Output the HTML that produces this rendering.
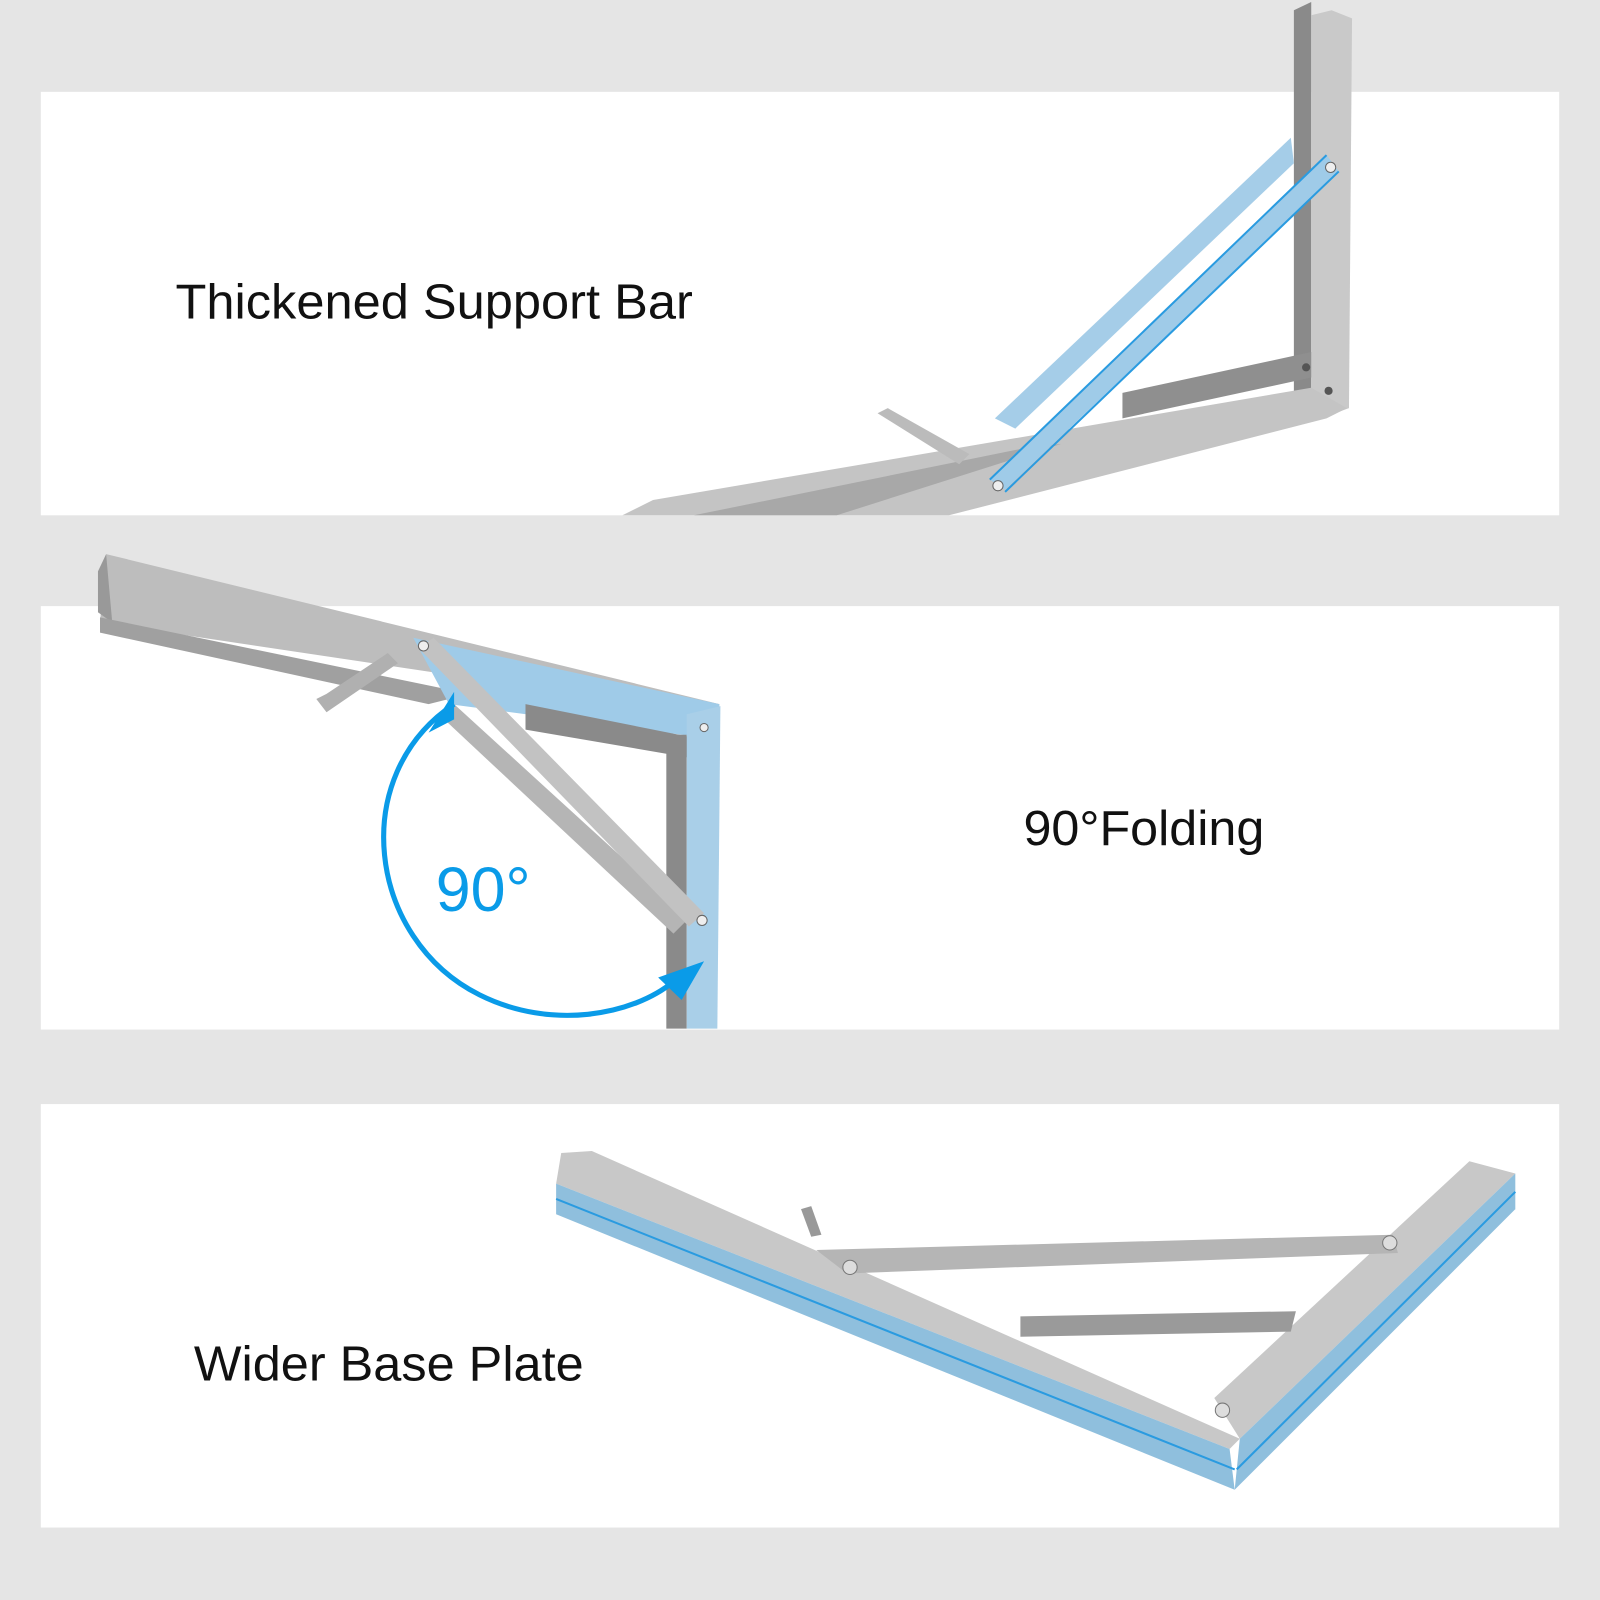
<!DOCTYPE html>
<html><head><style>html,body{margin:0;padding:0;background:#e5e5e5}svg{display:block}</style></head>
<body>
<svg width="1600" height="1600" viewBox="0 0 1568 1568" xmlns="http://www.w3.org/2000/svg" font-family="Liberation Sans, Arial, sans-serif">
<rect width="1568" height="1568" fill="#e5e5e5"/>
<rect x="40" y="90" width="1488" height="415" fill="#fff"/>
<rect x="40" y="594" width="1488" height="415" fill="#fff"/>
<rect x="40" y="1082" width="1488" height="415" fill="#fff"/>

<!-- Top bracket -->
<polygon points="1268,10 1285,2 1285,400 1268,400" fill="#8a8a8a"/>
<polygon points="1285,15 1305,10 1325,18 1322,400 1300,408 1285,400" fill="#c9c9c9"/>
<polygon points="1100,385 1285,345 1285,370 1100,410" fill="#8f8f8f"/>
<polygon points="610,505 640,490 1285,380 1320,400 1300,410 930,505" fill="#c4c4c4"/>
<polygon points="680,505 1000,440 1040,435 820,505" fill="#a8a8a8"/>
<polygon points="975,410 1265,135 1268,160 995,420" fill="#9bc8e6" opacity="0.9"/>
<polygon points="970,470 1300,152 1312,168 985,480" fill="#9fcbe8"/>
<line x1="970" y1="470" x2="1300" y2="152" stroke="#2a9be0" stroke-width="2"/>
<line x1="985" y1="482" x2="1312" y2="168" stroke="#2a9be0" stroke-width="2"/>
<polygon points="860,405 870,400 950,445 940,455" fill="#bbb"/>
<circle cx="1304" cy="164" r="5" fill="#eee" stroke="#666"/>
<circle cx="978" cy="476" r="5" fill="#eee" stroke="#666"/>
<circle cx="1302" cy="383" r="4" fill="#555"/>
<circle cx="1280" cy="360" r="4" fill="#555"/>

<!-- Middle bracket -->
<polygon points="104,543 705,690 700,700 98,610" fill="#bdbdbd"/>
<polygon points="96,560 104,543 110,610 96,600" fill="#999"/>
<polygon points="98,605 460,680 420,690 98,620" fill="#a0a0a0"/>
<polygon points="405,625 705,690 705,725 440,690" fill="#9fcbe8"/>
<polygon points="515,690 690,725 690,745 515,715" fill="#8a8a8a"/>
<polygon points="653,720 673,720 673,1008 653,1008" fill="#8a8a8a"/>
<polygon points="673,700 706,692 703,1008 673,1008" fill="#a9cfe8"/>
<polygon points="430,700 445,690 675,900 660,915" fill="#b5b5b5"/>
<polygon points="410,635 425,625 690,895 675,908" fill="#c2c2c2"/>
<polygon points="310,685 320,680 380,640 390,650 320,698" fill="#b0b0b0"/>
<circle cx="415" cy="633" r="5" fill="#eee" stroke="#666"/>
<circle cx="688" cy="902" r="5" fill="#eee" stroke="#666"/>
<circle cx="690" cy="713" r="4" fill="#eee" stroke="#666"/>
<path d="M445,690 C340,760 360,920 470,975 C540,1010 620,995 660,962" fill="none" stroke="#0a9be8" stroke-width="5"/>
<polygon points="445,678 420,718 445,705" fill="#0a9be8"/>
<polygon points="690,942 645,958 668,980" fill="#0a9be8"/>
<text x="427" y="893" font-size="62" fill="#0a9be8" textLength="93" lengthAdjust="spacingAndGlyphs">90°</text>

<!-- Bottom bracket -->
<polygon points="550,1130 580,1128 1215,1410 1205,1420 545,1160" fill="#c8c8c8"/>
<polygon points="545,1160 1205,1420 1210,1460 545,1190" fill="#8fbfdd"/>
<line x1="545" y1="1175" x2="1210" y2="1440" stroke="#2a9be0" stroke-width="2"/>
<polygon points="1190,1370 1440,1138 1485,1150 1215,1410" fill="#c8c8c8"/>
<polygon points="1215,1410 1485,1150 1485,1185 1210,1460" fill="#8fbfdd"/>
<line x1="1212" y1="1440" x2="1485" y2="1168" stroke="#2a9be0" stroke-width="2"/>
<polygon points="800,1225 1365,1210 1370,1228 830,1248" fill="#b5b5b5"/>
<polygon points="1000,1290 1270,1285 1265,1305 1000,1310" fill="#9a9a9a"/>
<circle cx="1362" cy="1218" r="7" fill="#ddd" stroke="#777"/>
<circle cx="833" cy="1242" r="7" fill="#ddd" stroke="#777"/>
<circle cx="1198" cy="1382" r="7" fill="#ddd" stroke="#777"/>
<polygon points="785,1185 795,1182 805,1210 795,1212" fill="#999"/>

<text x="172" y="312" font-size="48" fill="#111" textLength="507" lengthAdjust="spacingAndGlyphs">Thickened Support Bar</text>
<text x="1003" y="828" font-size="48" fill="#111" textLength="236" lengthAdjust="spacingAndGlyphs">90°Folding</text>
<text x="190" y="1353" font-size="48" fill="#111" textLength="382" lengthAdjust="spacingAndGlyphs">Wider Base Plate</text>
</svg>
</body></html>
